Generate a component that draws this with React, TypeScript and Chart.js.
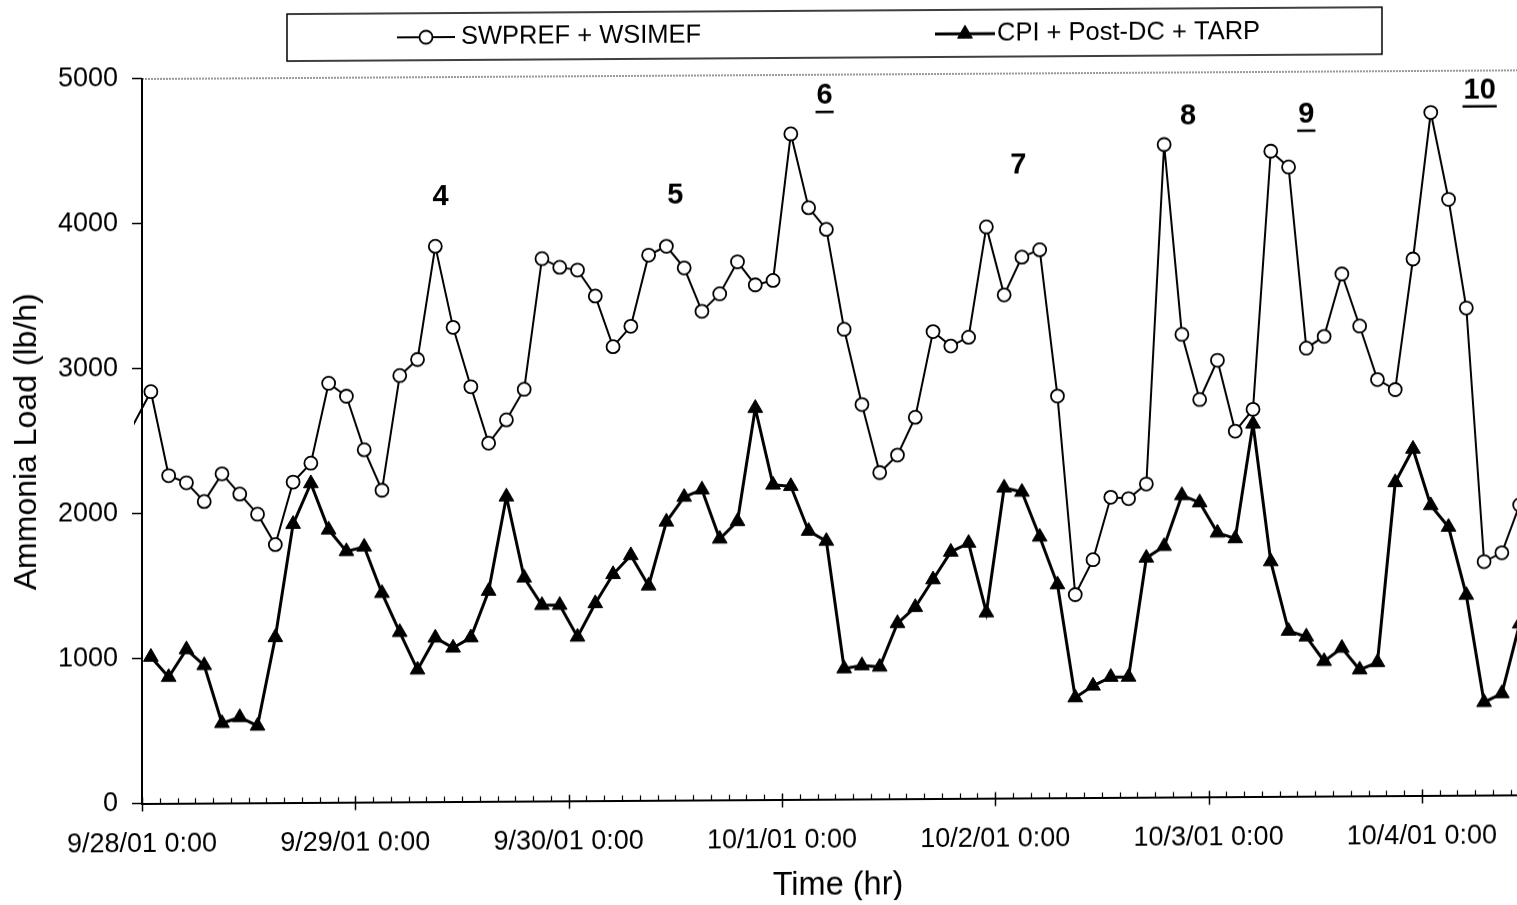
import React, { useEffect, useRef } from 'react';
import { Chart, registerables } from 'chart.js';

Chart.register(...registerables);

const FONT = '"Liberation Sans", Arial, Helvetica, sans-serif';

// Time axis in hours since 9/28/01 0:00; one reading every two hours.
const SWPREF_START_HOUR = -1;
const CPI_START_HOUR = 1;
const STEP_HOURS = 2;
const AXIS_MAX_HOURS = 154.7;

const dayLabels = [
  '9/28/01 0:00',
  '9/29/01 0:00',
  '9/30/01 0:00',
  '10/1/01 0:00',
  '10/2/01 0:00',
  '10/3/01 0:00',
  '10/4/01 0:00',
];

const yTickValues = [0, 1000, 2000, 3000, 4000, 5000];

// SWPREF + WSIMEF ammonia load (lb/h)
const swprefWsimef = [
  2610, 2840, 2260, 2210, 2080, 2270, 2130, 1990, 1780, 2210,
  2340, 2890, 2800, 2430, 2150, 2940, 3050, 3830, 3270, 2860,
  2470, 2630, 2840, 3740, 3680, 3660, 3480, 3130, 3270, 3760,
  3820, 3670, 3370, 3490, 3710, 3550, 3580, 4590, 4080, 3930,
  3240, 2720, 2250, 2370, 2630, 3220, 3120, 3180, 3940, 3470,
  3730, 3780, 2770, 1400, 1640, 2070, 2060, 2160, 4500, 3190,
  2740, 3010, 2520, 2670, 4450, 4340, 3090, 3170, 3600, 3240,
  2870, 2800, 3700, 4710, 4110, 3360, 1610, 1670, 2000,
];

// CPI + Post-DC + TARP ammonia load (lb/h)
const cpiPostDcTarp = [
  1010, 870, 1060, 950, 550, 590, 530, 1140, 1920, 2200,
  1880, 1730, 1760, 1440, 1170, 910, 1130, 1060, 1130, 1450,
  2100, 1540, 1350, 1350, 1130, 1360, 1560, 1690, 1480, 1920,
  2090, 2140, 1800, 1920, 2700, 2170, 2160, 1850, 1780, 900,
  920, 910, 1210, 1320, 1510, 1700, 1760, 1280, 2140, 2110,
  1800, 1470, 690, 770, 830, 830, 1650, 1730, 2080, 2030,
  1820, 1780, 2570, 1620, 1140, 1100, 930, 1020, 870, 920,
  2160, 2390, 2000, 1850, 1380, 640, 700, 1180,
];

// Event numbers marked above the peaks
const eventLabels = ['4', '5', '6', '7', '8', '9', '10'];
const eventHours = [33.6, 60, 76.8, 98.6, 117.7, 131, 150.5];
const eventLoads = [4170, 4170, 4850, 4360, 4690, 4700, 4860];
const eventUnderlined = [false, false, true, false, false, true, true];

const CIRCLE_R = 6.5;
const TRIANGLE_R = 8.5;

const toPoints = (values: number[], start: number) =>
  values.map((v, i) => ({ x: start + STEP_HOURS * i, y: v }));

const decorations = {
  id: 'decorations',
  afterDraw(chart: any) {
    const { ctx, chartArea, scales } = chart;
    const xs = scales.x;
    const ys = scales.y;
    ctx.save();

    // dotted frame line along the top of the plot
    ctx.strokeStyle = '#333';
    ctx.lineWidth = 1;
    ctx.setLineDash([2, 1]);
    ctx.beginPath();
    ctx.moveTo(chartArea.left, chartArea.top + 0.5);
    ctx.lineTo(chartArea.right, chartArea.top + 0.5);
    ctx.stroke();
    ctx.setLineDash([]);

    // y tick marks (outside)
    ctx.strokeStyle = '#000';
    ctx.lineWidth = 1.5;
    yTickValues.forEach((v) => {
      const y = ys.getPixelForValue(v);
      ctx.beginPath();
      ctx.moveTo(chartArea.left - 10, y);
      ctx.lineTo(chartArea.left, y);
      ctx.stroke();
    });

    // x tick marks: minor every 2 h inside, major every day across the axis
    const b = chartArea.bottom;
    for (let h = 0; h <= AXIS_MAX_HOURS; h += 2) {
      const x = Math.round(xs.getPixelForValue(h)) + 0.5;
      ctx.beginPath();
      if (h % 24 === 0) {
        ctx.lineWidth = 1.5;
        ctx.moveTo(x, b - 6);
        ctx.lineTo(x, b + 8);
      } else {
        ctx.lineWidth = 1.2;
        ctx.moveTo(x, b - 5);
        ctx.lineTo(x, b);
      }
      ctx.stroke();
    }

    // event numbers
    ctx.fillStyle = '#000';
    ctx.font = `bold 29px ${FONT}`;
    ctx.textAlign = 'center';
    ctx.textBaseline = 'middle';
    eventLabels.forEach((t, i) => {
      const x = xs.getPixelForValue(eventHours[i]);
      const y = ys.getPixelForValue(eventLoads[i]);
      ctx.fillText(t, x, y);
      if (eventUnderlined[i]) {
        const w = ctx.measureText(t).width;
        ctx.lineWidth = 2.5;
        ctx.beginPath();
        ctx.moveTo(x - w / 2 - 1, y + 16);
        ctx.lineTo(x + w / 2 + 1, y + 16);
        ctx.stroke();
      }
    });

    // x axis title
    ctx.font = `32.5px ${FONT}`;
    ctx.textAlign = 'center';
    ctx.textBaseline = 'alphabetic';
    ctx.fillText('Time (hr)', 838, 899);

    // legend box
    ctx.lineWidth = 1.5;
    ctx.strokeRect(287, 15, 1095, 47);
    const ly = 39;
    const items = chart.data.datasets;
    const entries = [
      { x0: 397, x1: 455, text: 461 },
      { x0: 935, x1: 995, text: 997 },
    ];
    entries.forEach((e, i) => {
      const ds = items[i];
      ctx.strokeStyle = '#000';
      ctx.lineWidth = ds.borderWidth;
      ctx.beginPath();
      ctx.moveTo(e.x0, ly);
      ctx.lineTo(e.x1, ly);
      ctx.stroke();
      const cx = (e.x0 + e.x1) / 2;
      ctx.lineWidth = ds.pointBorderWidth;
      ctx.fillStyle = ds.pointBackgroundColor;
      ctx.beginPath();
      if (ds.pointStyle === 'circle') {
        ctx.arc(cx, ly, CIRCLE_R, 0, Math.PI * 2);
      } else {
        const r = TRIANGLE_R;
        ctx.moveTo(cx, ly - r);
        ctx.lineTo(cx + r * Math.sin(Math.PI / 3), ly + r / 2);
        ctx.lineTo(cx - r * Math.sin(Math.PI / 3), ly + r / 2);
        ctx.closePath();
      }
      ctx.fill();
      ctx.stroke();
      ctx.fillStyle = '#000';
      ctx.font = `25.5px ${FONT}`;
      ctx.textAlign = 'left';
      ctx.textBaseline = 'middle';
      ctx.fillText(ds.label, e.text, ly);
    });

    ctx.restore();
  },
};

export default function App() {
  const ref = useRef<HTMLCanvasElement | null>(null);

  useEffect(() => {
    if (!ref.current) return;
    const chart = new Chart(ref.current, {
      type: 'line',
      data: {
        datasets: [
          {
            label: 'SWPREF + WSIMEF',
            data: toPoints(swprefWsimef, SWPREF_START_HOUR),
            borderColor: '#000',
            borderWidth: 2,
            pointStyle: 'circle',
            pointRadius: (c: any) => (c.dataIndex === 0 ? 0 : CIRCLE_R),
            pointBackgroundColor: '#fff',
            pointBorderColor: '#000',
            pointBorderWidth: 1.8,
            tension: 0,
            order: 1,
            clip: { left: 8, top: 0, right: 0, bottom: 0 },
          } as any,
          {
            label: 'CPI + Post-DC + TARP',
            data: toPoints(cpiPostDcTarp, CPI_START_HOUR),
            borderColor: '#000',
            borderWidth: 3,
            pointStyle: 'triangle',
            pointRadius: TRIANGLE_R,
            pointBackgroundColor: '#000',
            pointBorderColor: '#000',
            pointBorderWidth: 1,
            tension: 0,
            order: 0,
          } as any,
        ],
      },
      options: {
        responsive: false,
        animation: false,
        devicePixelRatio: 1,
        layout: {
          autoPadding: false,
          padding: { top: 78.5, left: 0, right: 0, bottom: 0 },
        },
        plugins: {
          legend: { display: false },
          tooltip: { enabled: false },
        },
        scales: {
          x: {
            type: 'linear',
            min: 0,
            max: AXIS_MAX_HOURS,
            grid: { display: false, drawTicks: true, tickLength: 25 },
            border: { display: true, color: '#000', width: 2 },
            afterBuildTicks: (s: any) => {
              const t = [];
              for (let h = 0; h <= AXIS_MAX_HOURS; h += 2) t.push({ value: h });
              s.ticks = t;
            },
            afterFit: (s: any) => {
              s.height = 101.5;
              s.paddingLeft = 0;
              s.paddingRight = 0;
            },
            ticks: {
              autoSkip: false,
              maxRotation: 0,
              minRotation: 0,
              padding: 0,
              color: '#000',
              font: { size: 27, family: FONT },
              callback: (v: any) => (v % 24 === 0 ? dayLabels[v / 24] : ''),
            },
          },
          y: {
            min: 0,
            max: 5000,
            grid: { display: false, drawTicks: false },
            border: { display: true, color: '#000', width: 2 },
            afterFit: (s: any) => {
              s.width = 142;
              s.paddingTop = 0;
              s.paddingBottom = 0;
            },
            ticks: {
              stepSize: 1000,
              padding: 24,
              color: '#000',
              font: { size: 27, family: FONT },
              callback: (v: any) => String(v),
            },
            title: {
              display: true,
              text: 'Ammonia Load (lb/h)',
              color: '#000',
              font: { size: 32, family: FONT },
              padding: { top: 8, bottom: 0 },
            },
          },
        },
      } as any,
      plugins: [decorations],
    });
    return () => chart.destroy();
  }, []);

  return (
    <div
      style={{
        position: 'fixed',
        left: 0,
        top: 0,
        width: 1517,
        height: 905,
        background: '#fff',
        transform: 'skewY(-0.36deg)',
        transformOrigin: '142px 803.5px',
      }}
    >
      <canvas ref={ref} width={1517} height={905} style={{ display: 'block' }} />
    </div>
  );
}
